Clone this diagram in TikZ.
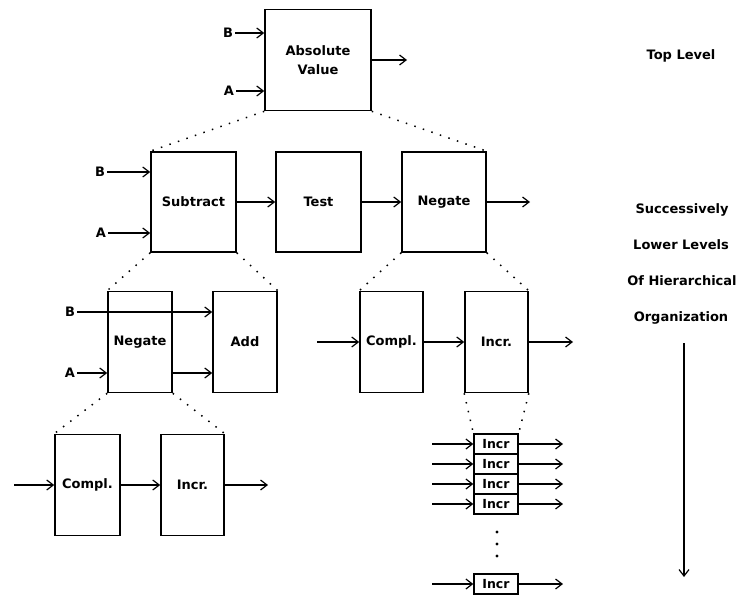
\documentclass[tikz,border=0pt]{standalone}
\usepackage{fontspec}
\setmainfont{DejaVu Sans}
\usetikzlibrary{arrows.meta}
\tikzset{
  txt/.style={font=\fontsize{13}{19}\selectfont\bfseries},
  box/.style={draw, line width=1.6pt, inner sep=0pt, align=center, txt},
  cell/.style={draw, line width=1.3pt, inner sep=0pt, minimum width=44pt, minimum height=20pt, font=\fontsize{12.5}{15}\selectfont\bfseries},
  lbl/.style={inner sep=0pt, txt},
  conn/.style={line width=1.5pt, -{Straight Barb[length=6.5pt,width=10pt,line width=1.2pt]}},
  dots/.style={line width=1.5pt, dash pattern=on 1.5pt off 7.5pt},
}
\begin{document}
\begin{tikzpicture}[x=1pt,y=-1pt]
\useasboundingbox (0,0) rectangle (738,594);
% top level
\node[box, minimum width=106pt, minimum height=101pt] (abs) at (318,60) {Absolute\\Value};
\node[lbl] (bt) at (228,33) {B};
\node[lbl] (at) at (229,91) {A};
\coordinate (absout) at (407,60);
\draw[conn] (bt.east) ++(2pt,0) coordinate (bts) -- (bts -| abs.west);
\draw[conn] (at.east) ++(2pt,0) coordinate (ats) -- (ats -| abs.west);
\draw[conn] (abs.east) -- (absout);
% second level
\node[box, minimum width=85pt, minimum height=100pt] (sub) at (193.5,202) {Subtract};
\node[box, minimum width=85pt, minimum height=100pt] (test) at (318.5,202) {Test};
\node[box, minimum width=84pt, minimum height=100pt] (neg) at (444,202) {Negate};
\node[lbl] (bs) at (100,172) {B};
\node[lbl] (as) at (101,233) {A};
\coordinate (negout) at (530,202);
\draw[conn] (bs.east) ++(2pt,0) coordinate (bss) -- (bss -| sub.west);
\draw[conn] (as.east) ++(2pt,0) coordinate (ass) -- (ass -| sub.west);
\draw[conn] (sub.east) -- (test.west);
\draw[conn] (test.east) -- (neg.west);
\draw[conn] (neg.east) -- (negout);
\draw[dots] (abs.south west) -- (sub.north west);
\draw[dots] (abs.south east) -- (neg.north east);
% third level left
\node[box, minimum width=64pt, minimum height=101pt] (neg2) at (140,342) {Negate};
\node[box, minimum width=64pt, minimum height=101pt] (add) at (245,342) {Add};
\node[lbl] (bl) at (70,312) {B};
\node[lbl] (al) at (70,373) {A};
\draw[conn] (bl.east) ++(2pt,0) coordinate (bls) -- (bls -| add.west);
\draw[conn] (al.east) ++(2pt,0) coordinate (als) -- (als -| neg2.west);
\draw[conn] (neg2.east |- als) -- (als -| add.west);
\draw[dots] (sub.south west) -- (neg2.north west);
\draw[dots] (sub.south east) -- (add.north east);
% third level right
\node[box, minimum width=63pt, minimum height=101pt] (comp) at (391.5,342) {Compl.};
\node[box, minimum width=63pt, minimum height=101pt] (incr) at (496.5,342) {Incr.};
\coordinate (compin) at (317,342);
\coordinate (incrout) at (573,342);
\draw[conn] (compin) -- (comp.west);
\draw[conn] (comp.east) -- (incr.west);
\draw[conn] (incr.east) -- (incrout);
\draw[dots] (neg.south west) -- (comp.north west);
\draw[dots] (neg.south east) -- (incr.north east);
% fourth level left
\node[box, minimum width=65pt, minimum height=101pt] (comp2) at (87.5,485) {Compl.};
\node[box, minimum width=63pt, minimum height=101pt] (incr2) at (192.5,485) {Incr.};
\coordinate (comp2in) at (14,485);
\coordinate (incr2out) at (268,485);
\draw[conn] (comp2in) -- (comp2.west);
\draw[conn] (comp2.east) -- (incr2.west);
\draw[conn] (incr2.east) -- (incr2out);
\draw[dots] (neg2.south west) -- (comp2.north west);
\draw[dots] (neg2.south east) -- (incr2.north east);
% bit-level incrementers
\foreach \i/\y in {1/444,2/464,3/484,4/504,5/584}{
  \node[cell] (c\i) at (496,\y) {Incr};
  \coordinate (ci\i) at (432,\y);
  \coordinate (co\i) at (563,\y);
  \draw[conn] (ci\i) -- (c\i.west);
  \draw[conn] (c\i.east) -- (co\i);
}
\draw[dots] (incr.south west) -- (c1.north west);
\draw[dots] (incr.south east) -- (c1.north east);
\foreach \y [count=\k] in {532,544,556}{
  \fill (497,\y) circle (1.6pt) coordinate (d\k);
}
% right side captions
\node[lbl] (top) at (681,56) {Top Level};
\node[lbl] (l1) at (682,210) {Successively};
\node[lbl] (l2) at (681,245) {Lower Levels};
\node[lbl] (l3) at (682,281) {Of Hierarchical};
\node[lbl] (l4) at (681,318) {Organization};
\coordinate (arrend) at (684,577);
\draw[conn] (684,343) coordinate (arrstart) -- (arrend);
\end{tikzpicture}
\end{document}
